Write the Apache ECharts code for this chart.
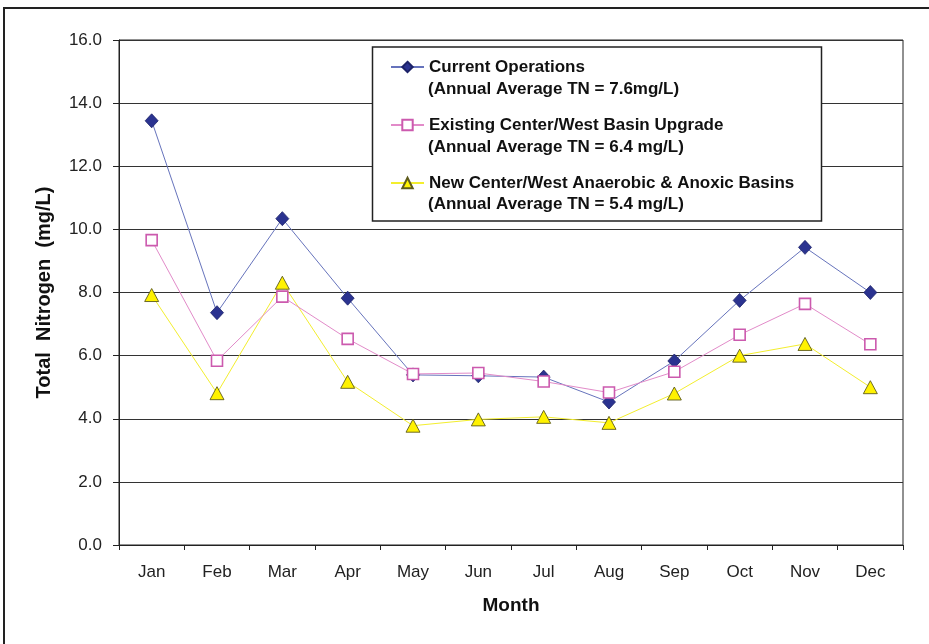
<!DOCTYPE html>
<html>
<head>
<meta charset="utf-8">
<script src="https://cdn.jsdelivr.net/npm/echarts@6/dist/echarts.min.js"></script>
<style>
html,body{margin:0;padding:0;background:#fff;}
#chart{width:929px;height:644px;}
</style>
</head>
<body>
<div id="chart"></div>
<script>
const months = ['Jan','Feb','Mar','Apr','May','Jun','Jul','Aug','Sep','Oct','Nov','Dec'];
const currentOps = [13.44, 7.36, 10.34, 7.82, 5.39, 5.36, 5.32, 4.53, 5.83, 7.75, 9.43, 8.0];
const existingUpgrade = [9.66, 5.84, 7.87, 6.53, 5.42, 5.45, 5.18, 4.83, 5.49, 6.66, 7.64, 6.36];
const newBasins = [7.92, 4.81, 8.31, 5.17, 3.78, 3.98, 4.06, 3.87, 4.80, 6.00, 6.37, 5.00];
const seriesNames = ['Current Operations', 'Existing Center/West Basin Upgrade', 'New Center/West Anaerobic & Anoxic Basins'];
const seriesNotes = ['(Annual Average TN = 7.6mg/L)', '(Annual Average TN = 6.4 mg/L)', '(Annual Average TN = 5.4 mg/L)'];
const yTicks = {min: 0, max: 16, interval: 2};
const xTitle = 'Month';
const yTitle = 'Total  Nitrogen  (mg/L)';

const FONT = '"Liberation Sans", Arial, sans-serif';
const chart = echarts.init(document.getElementById('chart'));

const noteTops = [81, 139, 196];

chart.setOption({
  animation: false,
  backgroundColor: '#ffffff',
  textStyle: {fontFamily: FONT},
  grid: {left: 119, top: 40, right: 26, bottom: 99, show: true, borderColor: '#222', borderWidth: 1},
  graphic: [
    {type: 'rect', z: 0, silent: true, shape: {x: 4, y: 8, width: 960, height: 700},
     style: {fill: 'none', stroke: '#222', lineWidth: 2}},
    {type: 'rect', z: 100, silent: true, shape: {x: 372.5, y: 47, width: 449, height: 174},
     style: {fill: '#fff', stroke: '#222', lineWidth: 1.5}},
  ].concat(seriesNotes.map((t, i) => ({
    type: 'text', z: 102, silent: true, left: 428, top: noteTops[i],
    style: {text: t, fill: '#111', font: 'bold 17px ' + FONT}
  }))),
  legend: {
    orient: 'vertical', left: 390, top: 56, padding: 0, z: 101,
    itemWidth: 33, itemHeight: 13, itemGap: 36,
    data: seriesNames,
    textStyle: {fontFamily: FONT, fontWeight: 'bold', fontSize: 17, color: '#111', lineHeight: 22}
  },
  xAxis: {
    type: 'category', data: months, boundaryGap: true,
    name: xTitle, nameLocation: 'middle', nameGap: 51,
    nameTextStyle: {fontFamily: FONT, fontWeight: 'bold', fontSize: 19, color: '#111'},
    axisLine: {show: true, lineStyle: {color: '#222', width: 1}},
    axisTick: {show: true, inside: false, length: 5, alignWithLabel: false, lineStyle: {color: '#222'}},
    axisLabel: {fontFamily: FONT, fontSize: 17, color: '#222', margin: 19},
    splitLine: {show: false}
  },
  yAxis: {
    type: 'value', min: yTicks.min, max: yTicks.max, interval: yTicks.interval,
    name: yTitle, nameLocation: 'middle', nameGap: 65, nameRotate: 90,
    nameTextStyle: {fontFamily: FONT, fontWeight: 'bold', fontSize: 20, color: '#111'},
    axisLine: {show: true, lineStyle: {color: '#222', width: 1}},
    axisTick: {show: true, inside: false, length: 6, lineStyle: {color: '#222'}},
    axisLabel: {fontFamily: FONT, fontSize: 17, color: '#222', margin: 17, formatter: v => v.toFixed(1)},
    splitLine: {show: true, lineStyle: {color: '#333', width: 1}}
  },
  series: [
    {
      name: seriesNames[0], type: 'line', data: currentOps,
      symbol: 'diamond', symbolSize: [13, 14],
      lineStyle: {color: '#6673BC', width: 1},
      itemStyle: {color: '#2B3390', borderColor: '#1C2268', borderWidth: 0.8},
      z: 3
    },
    {
      name: seriesNames[1], type: 'line', data: existingUpgrade,
      symbol: 'rect', symbolSize: 11,
      lineStyle: {color: '#E28BC9', width: 1},
      itemStyle: {color: '#ffffff', borderColor: '#CC5AAE', borderWidth: 1.6},
      z: 4
    },
    {
      name: seriesNames[2], type: 'line', data: newBasins,
      symbol: 'triangle', symbolSize: [14, 13],
      lineStyle: {color: '#F3EE2E', width: 1},
      itemStyle: {color: '#FFF200', borderColor: '#5E5B1C', borderWidth: 0.9},
      z: 2
    }
  ]
});
</script>
</body>
</html>
